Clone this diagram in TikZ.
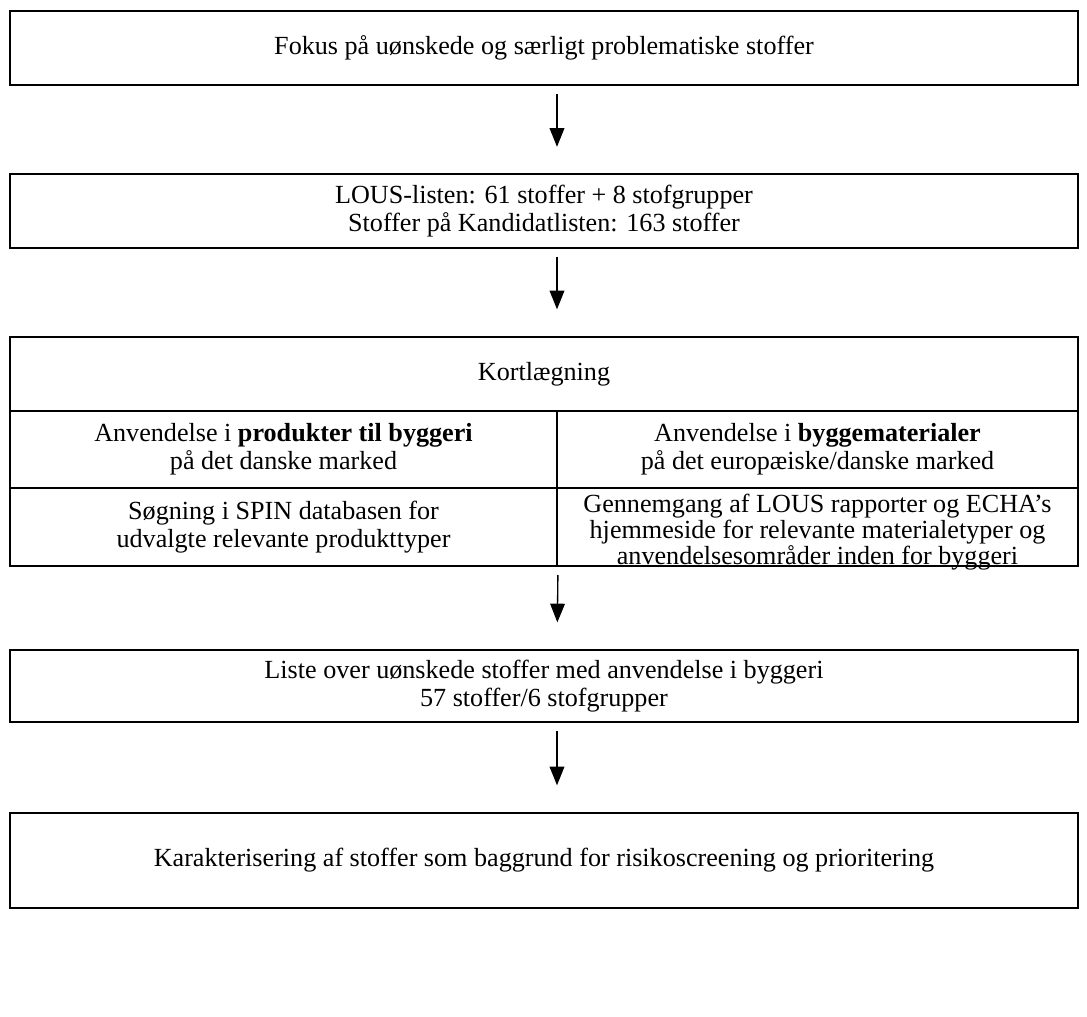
\documentclass[tikz,border=0pt]{standalone}
\usepackage{fontspec}
\setmainfont{Liberation Serif}
\usetikzlibrary{arrows.meta,positioning}

\tikzset{
  box/.style={draw, line width=1.5pt, minimum width=801pt, inner sep=0pt, align=center,
    font=\fontsize{19.6}{20.8}\selectfont},
  lcell/.style={box, minimum width=410.25pt},
  rcell/.style={box, minimum width=390.75pt},
  txt/.style={align=center, inner sep=0pt, font=\fontsize{19.6}{19.6}\selectfont},
  flow/.style={-{Triangle[length=14pt,width=11pt]}, line width=1pt,
    shorten <=6pt, shorten >=20pt},
}

\begin{document}
\begin{tikzpicture}[x=0.75pt,y=-0.75pt]
\useasboundingbox (0,0) rectangle (1087,1016);
\coordinate (axis) at (557,0);
% boxes
\node[box, minimum height=55.5pt] (fokus) at (544,48) {Fokus på uønskede og særligt problematiske stoffer};
\node[box, minimum height=54.75pt] (lous) at (544,211) {LOUS-listen: 61 stoffer + 8 stofgrupper\\Stoffer på Kandidatlisten: 163 stoffer};
\node[box, minimum height=55.5pt] (kort) at (544,374) {Kortlægning};
\node[lcell, minimum height=57.75pt] (prod) at (283.5,449.5) {Anvendelse i \textbf{produkter til byggeri}\\på det danske marked};
\node[rcell, minimum height=57.75pt] (mat) at (817.5,449.5) {Anvendelse i \textbf{byggematerialer}\\på det europæiske/danske marked};
\node[lcell, minimum height=58.5pt] (spin) at (283.5,527) {Søgning i SPIN databasen for\\udvalgte relevante produkttyper};
\node[rcell, minimum height=58.5pt] (echa) at (817.5,527) {};
\node[txt] (echatxt) at ([yshift=-4pt]echa.center) {Gennemgang af LOUS rapporter og ECHA’s\\hjemmeside for relevante materialetyper og\\anvendelsesområder inden for byggeri};
\node[box, minimum height=54pt] (liste) at (544,686) {Liste over uønskede stoffer med anvendelse i byggeri\\57 stoffer/6 stofgrupper};
\node[box, minimum height=71.25pt] (karak) at (544,860.5) {Karakterisering af stoffer som baggrund for risikoscreening og prioritering};
% arrows
\draw[flow] (fokus.south -| axis) -- (lous.north -| axis);
\draw[flow] (lous.south -| axis) -- (kort.north -| axis);
\draw[flow] (spin.south east) -- (liste.north -| axis);
\draw[flow] (liste.south -| axis) -- (karak.north -| axis);
\end{tikzpicture}
\end{document}
